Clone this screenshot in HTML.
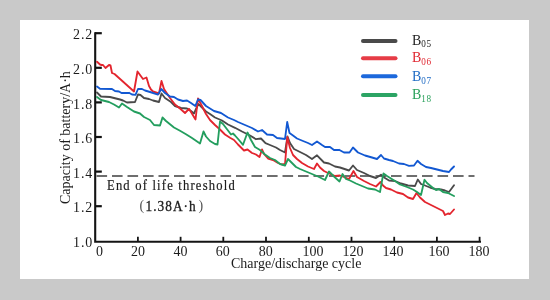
<!DOCTYPE html>
<html><head><meta charset="utf-8"><style>
html,body{margin:0;padding:0;}
body{width:550px;height:300px;background:#c9c9c9;position:relative;overflow:hidden;}
#panel{position:absolute;left:20px;top:20px;width:509px;height:259px;background:#fff;}
svg{position:absolute;left:0;top:0;will-change:transform;}
text{font-family:"Liberation Serif",serif;font-size:14px;fill:#1c1c1c;}
</style></head><body>
<div id="panel"></div>
<svg width="550" height="300" viewBox="0 0 550 300">
<path d="M95.2,32.3 L95.2,241.7 L481,241.7" fill="none" stroke="#141414" stroke-width="2.1" stroke-linejoin="miter"/>
<line x1="95" y1="206.2" x2="101.8" y2="206.2" stroke="#111" stroke-width="2.2"/><line x1="95" y1="171.6" x2="101.8" y2="171.6" stroke="#111" stroke-width="2.2"/><line x1="95" y1="137.0" x2="101.8" y2="137.0" stroke="#111" stroke-width="2.2"/><line x1="95" y1="102.4" x2="101.8" y2="102.4" stroke="#111" stroke-width="2.2"/><line x1="95" y1="67.8" x2="101.8" y2="67.8" stroke="#111" stroke-width="2.2"/><line x1="95" y1="33.2" x2="101.8" y2="33.2" stroke="#111" stroke-width="2.2"/><text transform="translate(93,246.9) scale(1,1.1)" text-anchor="end" letter-spacing="0.8">1.0</text><text transform="translate(93,212.3) scale(1,1.1)" text-anchor="end" letter-spacing="0.8">1.2</text><text transform="translate(93,177.7) scale(1,1.1)" text-anchor="end" letter-spacing="0.8">1.4</text><text transform="translate(93,143.1) scale(1,1.1)" text-anchor="end" letter-spacing="0.8">1.6</text><text transform="translate(93,108.5) scale(1,1.1)" text-anchor="end" letter-spacing="0.8">1.8</text><text transform="translate(93,73.9) scale(1,1.1)" text-anchor="end" letter-spacing="0.8">2.0</text><text transform="translate(93,39.3) scale(1,1.1)" text-anchor="end" letter-spacing="0.8">2.2</text><line x1="137.9" y1="241.5" x2="137.9" y2="236.8" stroke="#141414" stroke-width="1.8"/><line x1="180.6" y1="241.5" x2="180.6" y2="236.8" stroke="#141414" stroke-width="1.8"/><line x1="223.3" y1="241.5" x2="223.3" y2="236.8" stroke="#141414" stroke-width="1.8"/><line x1="266.0" y1="241.5" x2="266.0" y2="236.8" stroke="#141414" stroke-width="1.8"/><line x1="308.8" y1="241.5" x2="308.8" y2="236.8" stroke="#141414" stroke-width="1.8"/><line x1="351.5" y1="241.5" x2="351.5" y2="236.8" stroke="#141414" stroke-width="1.8"/><line x1="394.2" y1="241.5" x2="394.2" y2="236.8" stroke="#141414" stroke-width="1.8"/><line x1="436.9" y1="241.5" x2="436.9" y2="236.8" stroke="#141414" stroke-width="1.8"/><line x1="479.6" y1="241.5" x2="479.6" y2="236.8" stroke="#141414" stroke-width="1.8"/><text transform="translate(99.5,255.6) scale(1,1.1)" text-anchor="middle">0</text><text transform="translate(138,255.6) scale(1,1.1)" text-anchor="middle">20</text><text transform="translate(180.5,255.6) scale(1,1.1)" text-anchor="middle">40</text><text transform="translate(222.7,255.6) scale(1,1.1)" text-anchor="middle">60</text><text transform="translate(265.8,255.6) scale(1,1.1)" text-anchor="middle">80</text><text transform="translate(313,255.6) scale(1,1.1)" text-anchor="middle">100</text><text transform="translate(353,255.6) scale(1,1.1)" text-anchor="middle">120</text><text transform="translate(393,255.6) scale(1,1.1)" text-anchor="middle">140</text><text transform="translate(439,255.6) scale(1,1.1)" text-anchor="middle">160</text><text transform="translate(479,255.6) scale(1,1.1)" text-anchor="middle">180</text>
<line x1="96.5" y1="175.9" x2="474.5" y2="175.9" stroke="#6e6e6e" stroke-width="2" stroke-dasharray="10.6,4.9"/>
<g fill="none" stroke-width="1.85" stroke-linejoin="round" stroke-linecap="round">
<path d="M97,92.5 L101,96.5 L110,97 L114,98 L120,99.5 L123,100.5 L127,102.5 L135,102 L138,94.5 L140.5,95 L144,98 L149,99 L153,100.5 L159,102 L161.5,93.5 L165,98 L171,102 L175,106 L181,108 L187,108.5 L191,111 L194,113.5 L198.3,104 L200,105.5 L206,111.5 L210,114 L215,117.5 L222,120.5 L228,124.5 L235,127.8 L242,131.5 L250,135.5 L256,139.2 L261,138.5 L265.5,143.2 L270,145 L276,147.5 L280,150 L285,152.5 L287.5,136.5 L290,143 L294,149 L300,152 L306,155 L312,159 L317,155.3 L324,162.5 L329,163.5 L335,166.5 L340,167.5 L349,170.5 L353,165.5 L357,170 L364,173 L370,176 L376,178 L381,174.8 L385,178 L389,180.5 L395,181 L401,183.5 L408,185.5 L415,186 L417.8,179.5 L421,184 L425,185.5 L430,187.5 L435,189 L441,189.5 L445,190.5 L449,192 L454,185.3" stroke="#4a4a4a"/>
<path d="M97,61.8 L100,64.5 L101.5,65 L103,65 L105.5,68 L109,65 L110.5,65.5 L112,73 L114.5,74 L134,91.5 L137.5,71.5 L143,79 L146.5,77.5 L149,86 L151,89.5 L153,91.5 L159,93.5 L161.5,81 L164,89 L166,92 L170,98 L175,104.5 L180,108.5 L185,113 L189,108.8 L195.5,119.5 L198,98.5 L202.5,107 L206,114 L210,120 L215,125 L220,129.5 L225,134.5 L230,137.8 L234,140 L238,144.5 L244,150.5 L247.5,149.5 L252,153 L256,154.5 L259.5,157 L262,149.5 L264,154 L268,158.5 L273,160 L278,163 L282,164.5 L285,164 L287.3,137 L290,148 L293,155 L297,159 L302,163 L308,166.5 L314,169 L317,163.5 L320,167.5 L324,171 L328,173 L335,176 L340,175.5 L349,179 L353.5,171 L357,177 L364,181 L370,184 L376,186.5 L380.5,182 L383,185.5 L386,188 L391,189.5 L397,192.5 L403,194 L408,197.5 L413,199 L416.5,193 L420,197.5 L425,202 L431,205 L437,208 L443,211 L445,215 L448,213.5 L450,214 L454,209.5" stroke="#e3252e"/>
<path d="M97,97 L101,100 L109,102 L114,104.5 L119,107.5 L122,103.5 L127,107 L134,111.5 L140,113.5 L144,117 L150,120 L154,125 L160,125.5 L162.5,117.5 L166,121 L174,127.5 L180,130.8 L186,134.2 L192,138 L200,143.5 L203.5,131.5 L206,136.5 L210,141 L215,144 L217.5,144.5 L220,121.5 L223,124 L228,130.5 L231,134.5 L233,133.5 L235,135.5 L239,140 L243,144.8 L247.5,132.5 L251,140 L255,147 L260,150 L265,154.5 L270,158 L275,160 L280,164 L285,165.5 L288,159 L292,163 L296,167 L300,169 L306,171.5 L312,174 L318,176.5 L325,180 L329,171.5 L332,174.5 L334,176.5 L339.5,181.5 L342.5,174 L346,179 L350,180.5 L356,183.5 L362,186 L368,188.5 L375,189.5 L380,192 L382.5,178 L383.5,173.5 L387,176 L395,181 L400,184.5 L407,187 L413,189.5 L417,192 L421,195 L424.5,179.8 L427,183 L433,188 L436,190 L439,189 L443,192 L448,193 L454,196" stroke="#239e5e"/>
<path d="M97,86.5 L100,88.8 L112,89 L115,91 L119,91.5 L121.5,93 L129,92.8 L132,94.5 L135.5,94.8 L138,89 L142,89 L145,90.5 L150,92 L158,94.6 L161.3,89 L165,93 L170,96.5 L174,97 L178,99.5 L183,101 L187,100.5 L191,103 L195.3,106 L198,99.5 L200.5,100 L206,106 L214,111 L221,113 L228,117.5 L234,120 L238,122 L245,125 L252,128 L258,131.5 L262,130 L267,134.5 L273,135 L277,138 L285,139 L287.2,122 L289.5,133 L293,135.5 L297,138.5 L303,141 L308,143 L312,145 L317,141.5 L322,145 L325,147 L330,147 L334,150 L339,149.8 L344,152.5 L349.5,152.5 L353,147.5 L358,152.5 L365,155.5 L372,157.5 L377,159 L381,155 L384,158.5 L389,160 L393,161 L399,163.5 L404,164 L409,165.8 L414,165.5 L417.5,160.8 L421,164 L426,167 L431,168 L437,169.5 L443,171 L449,172 L451,169.5 L454,166.5" stroke="#1258d2"/>
</g>
<g stroke-width="4" stroke-linecap="round"><line x1="363" y1="40.9" x2="395.5" y2="40.9" stroke="#4a4a4a"/><text transform="translate(412,44.7) scale(1,1.05)" style="fill:#1e1e1e">B<tspan font-size="9.2" dy="2.6" letter-spacing="0.5">05</tspan></text><line x1="363" y1="58.2" x2="395.5" y2="58.2" stroke="#e63c46"/><text transform="translate(412,62.2) scale(1,1.05)" style="fill:#e02630">B<tspan font-size="9.2" dy="2.6" letter-spacing="0.5">06</tspan></text><line x1="363" y1="76.2" x2="395.5" y2="76.2" stroke="#1c68dc"/><text transform="translate(412,81) scale(1,1.05)" style="fill:#1e6ac4">B<tspan font-size="9.2" dy="2.6" letter-spacing="0.5">07</tspan></text><line x1="363" y1="94.9" x2="395.5" y2="94.9" stroke="#2ca464"/><text transform="translate(412,99.2) scale(1,1.05)" style="fill:#28a05a">B<tspan font-size="9.2" dy="2.6" letter-spacing="0.5">18</tspan></text></g>
<text transform="translate(107,190) scale(0.9,1.1)" letter-spacing="1.33" stroke="#1c1c1c" stroke-width="0.2">End of life threshold</text>
<text transform="translate(139.5,210.3) scale(1,1.1)" style="fill:#555">(</text><text transform="translate(145.5,210.5) scale(0.95,1.1)" letter-spacing="1.1" stroke="#1c1c1c" stroke-width="0.3">1.38A·h</text><text transform="translate(198.5,210.3) scale(1,1.1)" style="fill:#555">)</text>
<text transform="translate(231,267.8) scale(1,1.1)">Charge/discharge cycle</text>
<text transform="translate(69.8,204) scale(1.1,1) rotate(-90)">Capacity of battery/A·h</text>
</svg>
</body></html>
